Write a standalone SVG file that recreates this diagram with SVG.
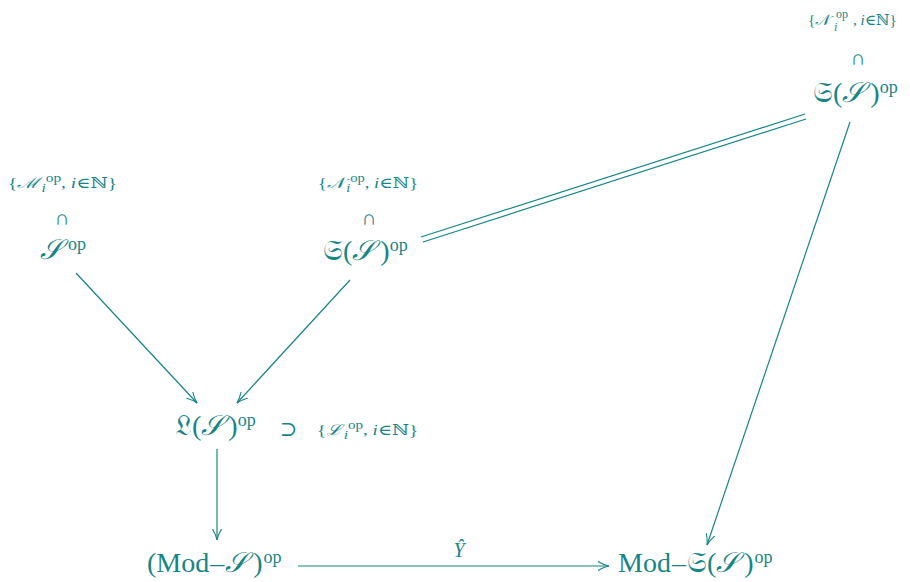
<svg xmlns="http://www.w3.org/2000/svg" width="910" height="582" viewBox="0 0 910 582">
<defs>
<style>
.t{fill:#178585;font-family:"Liberation Serif","DejaVu Serif",serif}
.big{font-size:28px}
.sm{font-size:15px}
.sup{font-size:18px}
.ss{font-size:12px}
.it{font-style:italic}
.op{font-size:21px}
.e{stroke:#178585;stroke-width:1.2;fill:none}
</style>
<marker id="a" viewBox="0 0 12 10" refX="11" refY="5" markerWidth="12" markerHeight="10" markerUnits="userSpaceOnUse" orient="auto">
<path d="M0,0.5 Q6,4 11,5 Q6,6 0,9.5" fill="none" stroke="#178585" stroke-width="1.1"/>
</marker>
</defs>
<rect width="910" height="582" fill="#fff"/>
<g id="connectors">
<line class="e" x1="76" y1="273" x2="197" y2="403" marker-end="url(#a)"/>
<line class="e" x1="350" y1="280" x2="237" y2="403" marker-end="url(#a)"/>
<line class="e" x1="217" y1="449" x2="217" y2="540" marker-end="url(#a)"/>
<line class="e" x1="298" y1="566" x2="609" y2="566" marker-end="url(#a)"/>
<line class="e" x1="850" y1="122" x2="707" y2="545" marker-end="url(#a)"/>
<line class="e" x1="421" y1="237" x2="805" y2="114"/>
<line class="e" x1="423" y1="242" x2="806" y2="119"/>
<text class="t it" x="459" y="557" font-size="20" text-anchor="middle">Ŷ</text>
</g>
<g id="S">
<text class="t sm" x="8" y="188" textLength="109" lengthAdjust="spacingAndGlyphs">{<tspan class="it">ℳ<tspan class="ss" dx="2" dy="4">i</tspan></tspan><tspan class="ss" dy="-10">op</tspan><tspan dy="6">, </tspan><tspan class="it">i</tspan>∈ℕ}</text>
<text class="t op" x="62" y="225" text-anchor="middle">∩</text>
<text class="t big" x="40" y="259"><tspan class="it">𝒮</tspan><tspan class="sup" dx="6" dy="-9">op</tspan></text>
</g>
<g id="GS">
<text class="t sm" x="318" y="188" textLength="100" lengthAdjust="spacingAndGlyphs">{<tspan class="it">𝒩<tspan class="ss" dx="2" dy="4">i</tspan></tspan><tspan class="ss" dy="-10">op</tspan><tspan dy="6">, </tspan><tspan class="it">i</tspan>∈ℕ}</text>
<text class="t op" x="369" y="225" text-anchor="middle">∩</text>
<text class="t big" x="323" y="260">𝔖(<tspan class="it">𝒮</tspan><tspan dx="6">)</tspan><tspan class="sup" dy="-9">op</tspan></text>
</g>
<g id="GS2">
<text class="t sm" x="808" y="25">{<tspan class="it">𝒩</tspan></text>
<text class="t ss" x="836" y="18">op</text>
<text class="t ss it" x="834" y="31">i</text>
<text class="t sm" x="853" y="25">, <tspan class="it">i</tspan>∈ℕ}</text>
<text class="t op" x="858" y="65" text-anchor="middle">∩</text>
<text class="t big" x="813" y="102">𝔖(<tspan class="it">𝒮</tspan><tspan dx="6">)</tspan><tspan class="sup" dy="-9">op</tspan></text>
</g>
<g id="LS">
<text class="t big" x="175" y="435">𝔏(<tspan class="it">𝒮</tspan><tspan dx="5">)</tspan><tspan class="sup" dy="-9">op</tspan></text>
<text class="t op" x="288.5" y="436" text-anchor="middle">⊃</text>
<text class="t sm" x="317" y="435" textLength="101" lengthAdjust="spacingAndGlyphs">{<tspan class="it">ℒ<tspan class="ss" dx="2" dy="4">i</tspan></tspan><tspan class="ss" dy="-10">op</tspan><tspan dy="6">, </tspan><tspan class="it">i</tspan>∈ℕ}</text>
</g>
<g id="ModS">
<text class="t big" x="147" y="572">(Mod<tspan dx="1">–</tspan><tspan class="it" dx="1">𝒮</tspan><tspan dx="6">)</tspan><tspan class="sup" dx="1" dy="-9">op</tspan></text>
</g>
<g id="ModGS">
<text class="t big" x="618" y="572">Mod<tspan dx="1">–</tspan><tspan dx="1">𝔖</tspan>(<tspan class="it">𝒮</tspan><tspan dx="6">)</tspan><tspan class="sup" dx="1" dy="-9">op</tspan></text>
</g>
</svg>
